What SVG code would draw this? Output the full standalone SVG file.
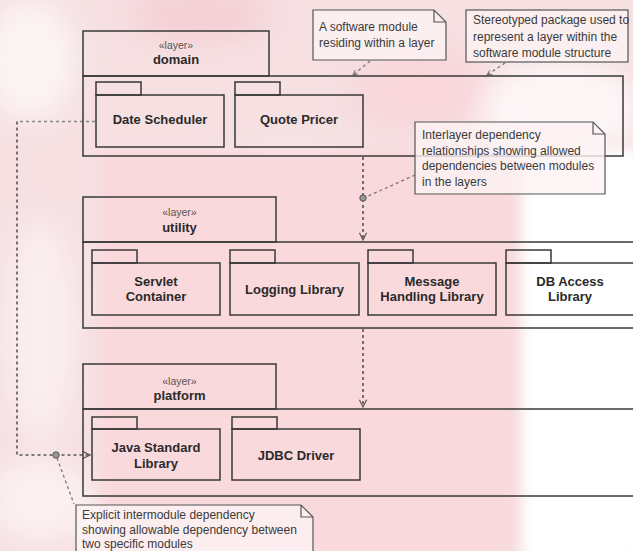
<svg xmlns="http://www.w3.org/2000/svg" width="633" height="551" viewBox="0 0 633 551">
  <defs>
    <filter id="soft" x="-20%" y="-20%" width="140%" height="140%">
      <feGaussianBlur stdDeviation="14"/>
    </filter>
    <filter id="edge" x="-10%" y="-10%" width="120%" height="120%">
      <feGaussianBlur stdDeviation="6"/>
    </filter>
    <marker id="open" viewBox="0 0 10 10" refX="9" refY="5" markerWidth="9" markerHeight="9" orient="auto" markerUnits="userSpaceOnUse">
      <path d="M1,1 L9,5 L1,9" fill="none" stroke="#555" stroke-width="1.3"/>
    </marker>
    <marker id="tiny" viewBox="0 0 10 10" refX="9" refY="5" markerWidth="6" markerHeight="6" orient="auto" markerUnits="userSpaceOnUse">
      <path d="M1,1 L9,5 L1,9" fill="none" stroke="#666" stroke-width="1.4"/>
    </marker>
    <style>
      .box { fill: none; stroke: #383838; stroke-width: 1.5; }
      .note { fill: #fdf3f4; fill-opacity: 0.8; stroke: #555; stroke-width: 1.2; }
      .fold { fill: none; stroke: #555; stroke-width: 1.2; }
      .dep { fill: none; stroke: #555; stroke-width: 1.6; stroke-dasharray: 3 3; }
      .dep-light { fill: none; stroke: #888; stroke-width: 1.5; stroke-dasharray: 3 3; }
      .anchor { fill: none; stroke: #777; stroke-width: 1.3; stroke-dasharray: 3 3; }
      .stereo { font-family: "Liberation Sans", Arial, sans-serif; font-size: 10.5px; fill: #555; text-anchor: middle; }
      .name { font-family: "Liberation Sans", Arial, sans-serif; font-size: 13px; font-weight: bold; fill: #2a2a2a; text-anchor: middle; }
      .ntext { font-family: "Liberation Sans", Arial, sans-serif; font-size: 12px; fill: #3a3a3a; }
    </style>
  </defs>

  <!-- soft pink backdrop -->
  <g id="backdrop">
    <rect x="0" y="0" width="633" height="551" fill="#f6e0e2"/>
    <g filter="url(#soft)">
      <ellipse cx="30" cy="60" rx="45" ry="60" fill="#fdf4f5"/>
      <ellipse cx="40" cy="330" rx="35" ry="110" fill="#fbeef0"/>
      <ellipse cx="40" cy="500" rx="50" ry="40" fill="#fcf1f2"/>
      <ellipse cx="200" cy="15" rx="70" ry="25" fill="#f4cfd4"/>
      <ellipse cx="420" cy="90" rx="70" ry="40" fill="#f8d6da"/>
      <ellipse cx="560" cy="110" rx="80" ry="50" fill="#fdf6f7"/>
      <ellipse cx="290" cy="175" rx="90" ry="18" fill="#fcf2f3"/>
      <ellipse cx="180" cy="520" rx="120" ry="25" fill="#fbeef0"/>
    </g>
    <rect x="100" y="150" width="415" height="401" fill="#fad9dd" filter="url(#edge)"/>
    <rect x="522" y="150" width="120" height="410" fill="#ffffff" filter="url(#edge)"/>
  </g>

  <!-- connectors -->
  <g id="connectors">
    <path class="dep" d="M363,157 V240" marker-end="url(#open)"/>
    <path class="dep" d="M363,329 V407" marker-end="url(#open)"/>
    <path class="dep-light" d="M95,121.5 H17"/>
    <path class="dep" d="M17,121.5 V455 H90" marker-end="url(#open)"/>
    <circle cx="363" cy="198" r="3.2" fill="#999" stroke="#555" stroke-width="1"/>
    <circle cx="56" cy="455" r="3.2" fill="#999" stroke="#555" stroke-width="1"/>
    <path class="anchor" d="M370,61 L353,75" marker-end="url(#tiny)"/>
    <path class="anchor" d="M505,63 L487,75" marker-end="url(#tiny)"/>
    <path class="anchor" d="M415,175 L366,197"/>
    <path class="anchor" d="M57,458 L74,504"/>
  </g>

  <!-- layer: domain -->
  <g id="layer-domain">
    <rect class="box" x="83" y="31" width="186" height="45"/>
    <rect class="box" x="83" y="76" width="540" height="80"/>
    <text class="stereo" x="176" y="49">«layer»</text>
    <text class="name" x="176" y="64">domain</text>
  </g>
  <g id="module-date-scheduler">
    <rect class="box" x="96" y="82" width="45" height="13"/>
    <rect class="box" x="96" y="95" width="128" height="52"/>
    <text class="name" x="160" y="124">Date Scheduler</text>
  </g>
  <g id="module-quote-pricer">
    <rect class="box" x="235" y="82" width="45" height="13"/>
    <rect class="box" x="235" y="95" width="128" height="52"/>
    <text class="name" x="299" y="124">Quote Pricer</text>
  </g>

  <!-- layer: utility -->
  <g id="layer-utility">
    <rect class="box" x="83" y="197" width="193" height="45"/>
    <rect class="box" x="83" y="242" width="570" height="86"/>
    <text class="stereo" x="179.5" y="216">«layer»</text>
    <text class="name" x="179.5" y="232">utility</text>
  </g>
  <g id="module-servlet-container">
    <rect class="box" x="92" y="250" width="45" height="13"/>
    <rect class="box" x="92" y="263" width="128" height="52"/>
    <text class="name" x="156" y="286">Servlet</text>
    <text class="name" x="156" y="301">Container</text>
  </g>
  <g id="module-logging-library">
    <rect class="box" x="230" y="250" width="45" height="13"/>
    <rect class="box" x="230" y="263" width="129" height="52"/>
    <text class="name" x="294.5" y="294">Logging Library</text>
  </g>
  <g id="module-message-handling">
    <rect class="box" x="368" y="250" width="45" height="13"/>
    <rect class="box" x="368" y="263" width="128" height="52"/>
    <text class="name" x="432" y="286">Message</text>
    <text class="name" x="432" y="301">Handling Library</text>
  </g>
  <g id="module-db-access">
    <rect class="box" x="506" y="250" width="45" height="13"/>
    <rect class="box" x="506" y="263" width="128" height="52"/>
    <text class="name" x="570" y="286">DB Access</text>
    <text class="name" x="570" y="301">Library</text>
  </g>

  <!-- layer: platform -->
  <g id="layer-platform">
    <rect class="box" x="83" y="364" width="193" height="45"/>
    <rect class="box" x="83" y="409" width="570" height="87"/>
    <text class="stereo" x="179.5" y="385">«layer»</text>
    <text class="name" x="179.5" y="400">platform</text>
  </g>
  <g id="module-java-standard">
    <rect class="box" x="92" y="417" width="45" height="12"/>
    <rect class="box" x="92" y="429" width="128" height="51"/>
    <text class="name" x="156" y="452">Java Standard</text>
    <text class="name" x="156" y="468">Library</text>
  </g>
  <g id="module-jdbc-driver">
    <rect class="box" x="232" y="417" width="45" height="12"/>
    <rect class="box" x="232" y="429" width="128" height="51"/>
    <text class="name" x="296" y="460">JDBC Driver</text>
  </g>

  <!-- notes -->
  <g id="note-module">
    <path class="note" d="M313,10 H434 L446,22 V60 H313 Z"/>
    <path class="fold" d="M434,10 V22 H446"/>
    <text class="ntext" x="319" y="31">A software module</text>
    <text class="ntext" x="319" y="47">residing within a layer</text>
  </g>
  <g id="note-layer">
    <rect class="note" x="466" y="10" width="162" height="52"/>
    <text class="ntext" x="473" y="24">Stereotyped package used to</text>
    <text class="ntext" x="473" y="41">represent a layer within the</text>
    <text class="ntext" x="473" y="57">software module structure</text>
  </g>
  <g id="note-interlayer">
    <path class="note" d="M415,122 H593 L605,134 V194 H415 Z"/>
    <path class="fold" d="M593,122 V134 H605"/>
    <text class="ntext" x="422" y="139">Interlayer dependency</text>
    <text class="ntext" x="422" y="155">relationships showing allowed</text>
    <text class="ntext" x="422" y="170">dependencies between modules</text>
    <text class="ntext" x="422" y="186">in the layers</text>
  </g>
  <g id="note-intermodule">
    <path class="note" d="M76,505 H301 L313,517 V560 H76 Z"/>
    <path class="fold" d="M301,505 V517 H313"/>
    <text class="ntext" x="82" y="519">Explicit intermodule dependency</text>
    <text class="ntext" x="82" y="534">showing allowable dependency between</text>
    <text class="ntext" x="82" y="548">two specific modules</text>
  </g>
</svg>
